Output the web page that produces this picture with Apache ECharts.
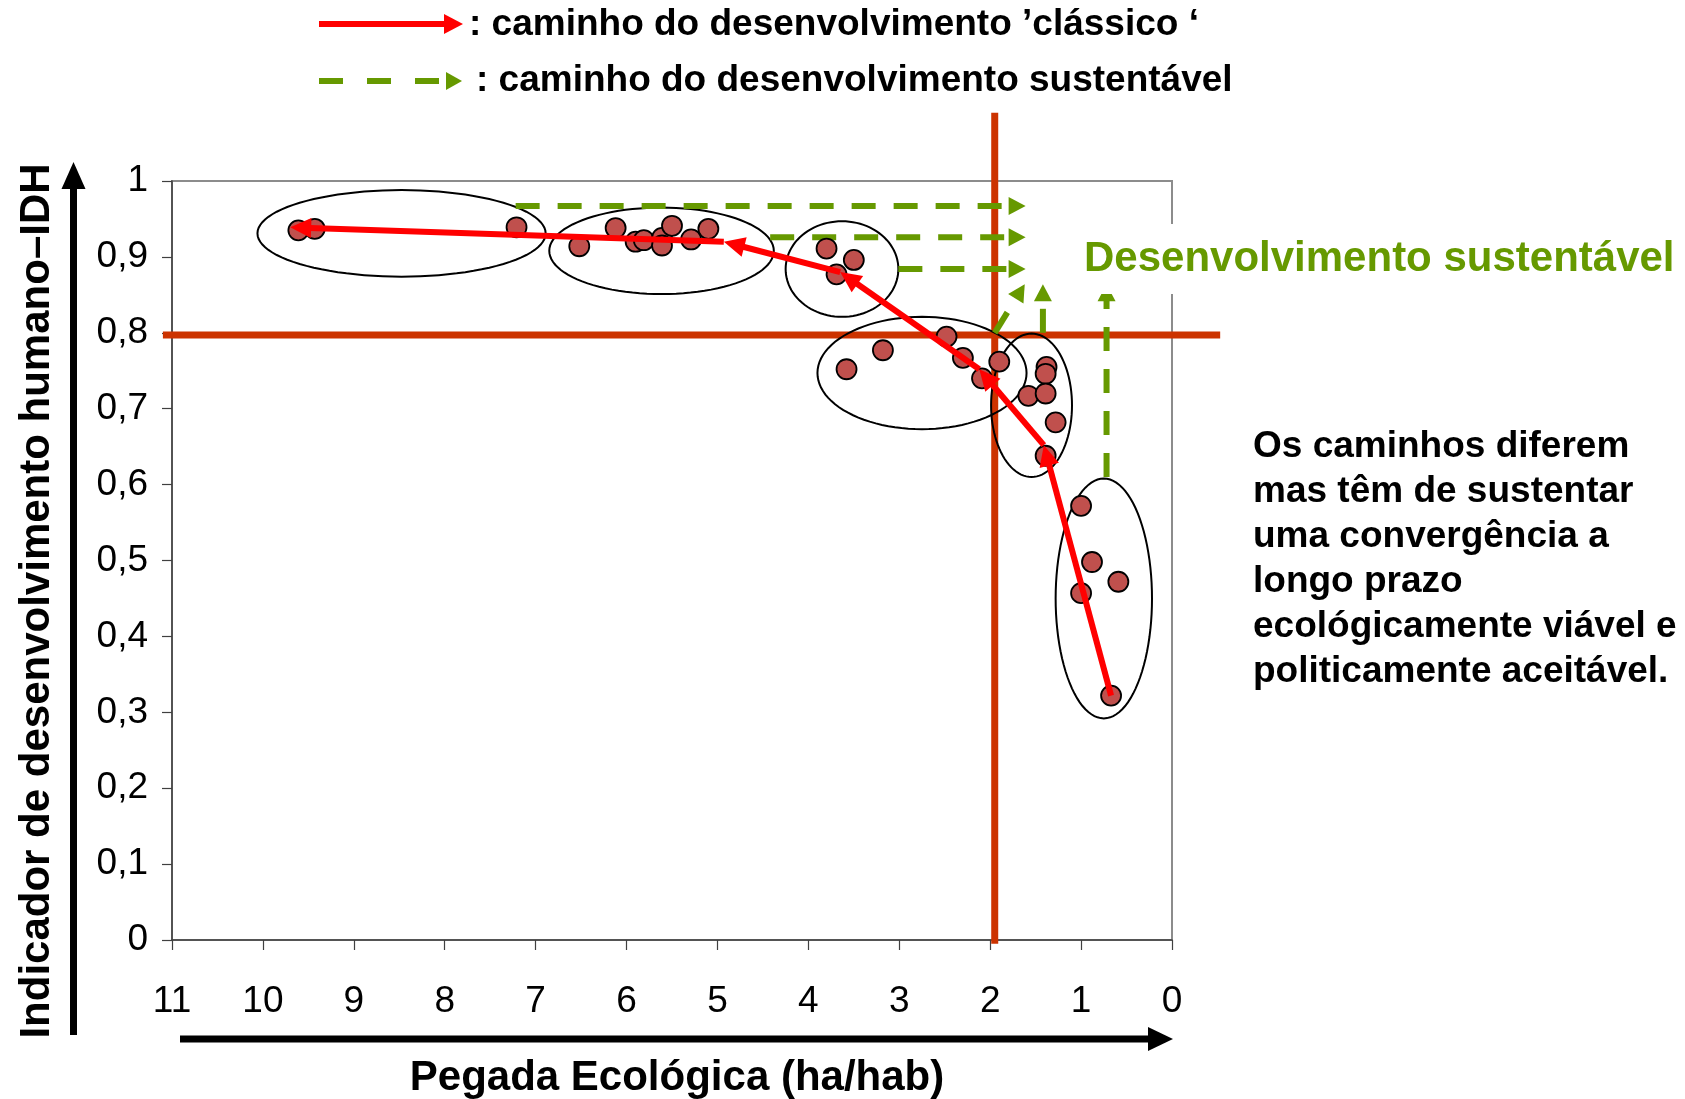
<!DOCTYPE html>
<html>
<head>
<meta charset="utf-8">
<script src="https://cdn.jsdelivr.net/npm/echarts@6/dist/echarts.min.js"></script>
<style>html,body{margin:0;padding:0;background:#fff}#c{width:1685px;height:1099px}</style>
</head>
<body>
<div id="c"></div>
<script>
// ---------- data ----------
const xTickLabels = ['0','1','2','3','4','5','6','7','8','9','10','11'];
const yTickLabels = ['0','0,1','0,2','0,3','0,4','0,5','0,6','0,7','0,8','0,9','1'];

// countries: ecological footprint (ha/hab) and HDI
const pegada = [9.61, 9.43, 7.21,
  6.52, 6.12, 5.90, 5.81, 5.61, 5.50, 5.61, 5.29, 5.10,
  3.80, 3.50, 3.69,
  3.58, 3.18, 2.48, 2.30, 2.09, 1.90,
  1.38, 1.39, 1.58, 1.39, 1.28, 1.39,
  1.00, 0.88, 0.59, 1.00, 0.67];
const idh = [0.935, 0.937, 0.939,
  0.914, 0.938, 0.920, 0.922, 0.925, 0.941, 0.915, 0.923, 0.937,
  0.911, 0.896, 0.877,
  0.752, 0.777, 0.795, 0.767, 0.740, 0.762,
  0.755, 0.746, 0.717, 0.720, 0.682, 0.638,
  0.572, 0.498, 0.472, 0.457, 0.322];

// classic development path (sequence of points)
const classicX = [0.67, 1.41, 2.12, 3.65, 4.93, 9.70];
const classicY = [0.322, 0.652, 0.752, 0.880, 0.920, 0.939];

// sustainable development arrows
const susFromX = [7.22, 4.42, 3.01, 1.95, 1.42, 0.72];
const susFromY = [0.967, 0.926, 0.884, 0.800, 0.800, 0.610];
const susToX   = [1.61, 1.61, 1.61, 1.62, 1.42, 0.72];
const susToY   = [0.967, 0.926, 0.884, 0.864, 0.864, 0.864];

// country groups (ellipses): centre and half-extent
const grpCx = [8.475, 5.615, 3.63, 2.75, 1.545, 0.75];
const grpCy = [0.931, 0.908, 0.884, 0.747, 0.7045, 0.45];
const grpRx = [1.585, 1.235, 0.62, 1.15, 0.445, 0.53];
const grpRy = [0.057, 0.057, 0.063, 0.074, 0.0945, 0.158];

// thresholds
const limitPegada = [1.95];
const limitIdh = [0.797];

// ---------- chart ----------
const FONT = "'Liberation Sans', Arial, sans-serif";
const chart = echarts.init(document.getElementById('c'), null, {renderer: 'canvas'});

function arrowRender(color, width, dash, headLen, headHalf) {
  return function (params, api) {
    const p1 = api.coord([api.value(0), api.value(1)]);
    const p2 = api.coord([api.value(2), api.value(3)]);
    const dx = p2[0] - p1[0], dy = p2[1] - p1[1];
    const L = Math.hypot(dx, dy) || 1;
    const ux = dx / L, uy = dy / L;
    const bx = p2[0] - ux * headLen, by = p2[1] - uy * headLen;
    return {
      type: 'group',
      children: [
        {type: 'line', shape: {x1: p1[0], y1: p1[1], x2: bx + ux, y2: by + uy},
         style: {stroke: color, lineWidth: width, lineDash: dash, fill: null}},
        {type: 'polygon', shape: {points: [[p2[0], p2[1]],
          [bx - uy * headHalf, by + ux * headHalf], [bx + uy * headHalf, by - ux * headHalf]]},
         style: {fill: color}}
      ]
    };
  };
}

const classicSegs = [];
for (let i = 0; i < classicX.length - 1; i++) {
  classicSegs.push([classicX[i], classicY[i], classicX[i + 1], classicY[i + 1]]);
}
const susSegs = susFromX.map((v, i) => [v, susFromY[i], susToX[i], susToY[i]]);
const ellipses = grpCx.map((v, i) => [v, grpCy[i], grpRx[i], grpRy[i]]);

const option = {
  animation: false,
  backgroundColor: '#fff',
  grid: {left: 172, right: 513, top: 181, bottom: 159, show: true,
         borderColor: '#8c8c8c', borderWidth: 2, backgroundColor: 'transparent'},
  xAxis: {
    type: 'value', inverse: true, min: 0, max: 11, interval: 1,
    axisLine: {show: true, onZero: false, lineStyle: {color: '#404040', width: 1.5}},
    axisTick: {show: true, inside: false, length: 10, lineStyle: {color: '#404040', width: 1.2}},
    axisLabel: {margin: 43, fontSize: 37, color: '#000', fontFamily: FONT,
      formatter: v => xTickLabels[Math.round(v)]},
    splitLine: {show: false}
  },
  yAxis: {
    type: 'value', min: 0, max: 1, interval: 0.1,
    axisLine: {show: true, onZero: false, lineStyle: {color: '#404040', width: 1.5}},
    axisTick: {show: true, inside: false, length: 10, lineStyle: {color: '#404040', width: 1.2}},
    axisLabel: {margin: 24, fontSize: 37, color: '#000', fontFamily: FONT,
      formatter: v => yTickLabels[Math.round(v * 10)]},
    splitLine: {show: false}
  },
  series: [
    {
      type: 'custom', z: 1, clip: false, silent: true,
      data: limitPegada.map(v => [v, 0]),
      encode: {x: 0, y: 1},
      renderItem: function (params, api) {
        const a = api.coord([api.value(0), 1.09]);
        const b = api.coord([api.value(0), -0.005]);
        return {type: 'line', shape: {x1: a[0], y1: a[1], x2: b[0], y2: b[1]},
                style: {stroke: '#CC3300', lineWidth: 7}};
      }
    },
    {
      type: 'custom', z: 1, clip: false, silent: true,
      data: limitIdh.map(v => [0, v]),
      encode: {x: 0, y: 1},
      renderItem: function (params, api) {
        const a = api.coord([11.1, api.value(1)]);
        const b = api.coord([-0.53, api.value(1)]);
        return {type: 'line', shape: {x1: a[0], y1: a[1], x2: b[0], y2: b[1]},
                style: {stroke: '#CC3300', lineWidth: 7}};
      }
    },
    {
      type: 'custom', z: 2, clip: false, silent: true,
      data: ellipses,
      encode: {x: 0, y: 1},
      renderItem: function (params, api) {
        const cx = api.value(0), cy = api.value(1), rx = api.value(2), ry = api.value(3);
        const pts = [];
        for (let k = 0; k < 96; k++) {
          const t = k / 96 * Math.PI * 2;
          pts.push(api.coord([cx + rx * Math.cos(t), cy + ry * Math.sin(t)]));
        }
        return {type: 'polygon', shape: {points: pts},
                style: {fill: null, stroke: '#000', lineWidth: 2}};
      }
    },
    {
      type: 'custom', z: 3, clip: false, silent: true,
      data: susSegs,
      encode: {x: [0, 2], y: [1, 3]},
      renderItem: arrowRender('#669900', 6, [24, 18], 17, 9)
    },
    {
      type: 'scatter', z: 4,
      data: pegada.map((v, i) => [v, idh[i]]),
      symbol: 'circle', symbolSize: 20,
      itemStyle: {color: '#C0504D', borderColor: '#000', borderWidth: 1.8, opacity: 1}
    },
    {
      type: 'custom', z: 5, clip: false, silent: true,
      data: classicSegs,
      encode: {x: [0, 2], y: [1, 3]},
      renderItem: arrowRender('#FF0000', 6, null, 21, 10)
    }
  ],
  graphic: [
    // legend
    {type: 'line', z: 100, shape: {x1: 319, y1: 24, x2: 446, y2: 24}, style: {stroke: '#FF0000', lineWidth: 6}},
    {type: 'polygon', z: 100, shape: {points: [[444, 14], [463, 24], [444, 34]]}, style: {fill: '#FF0000'}},
    {type: 'text', z: 100, x: 469, y: 25, style: {text: ': caminho do desenvolvimento ’clássico ‘',
      font: 'bold 37px ' + FONT, fill: '#000', align: 'left', verticalAlign: 'middle'}},
    {type: 'rect', z: 100, shape: {x: 319, y: 78, width: 24, height: 6}, style: {fill: '#669900'}},
    {type: 'rect', z: 100, shape: {x: 367, y: 78, width: 24, height: 6}, style: {fill: '#669900'}},
    {type: 'rect', z: 100, shape: {x: 415, y: 78, width: 24, height: 6}, style: {fill: '#669900'}},
    {type: 'polygon', z: 100, shape: {points: [[446, 72], [462, 81], [446, 90]]}, style: {fill: '#669900'}},
    {type: 'text', z: 100, x: 476, y: 81, style: {text: ': caminho do desenvolvimento sustentável',
      font: 'bold 37px ' + FONT, fill: '#000', align: 'left', verticalAlign: 'middle'}},
    // axis arrows
    {type: 'rect', z: 100, shape: {x: 70, y: 185, width: 7, height: 850}, style: {fill: '#000'}},
    {type: 'polygon', z: 100, shape: {points: [[73.5, 162], [61.5, 189], [85.5, 189]]}, style: {fill: '#000'}},
    {type: 'rect', z: 100, shape: {x: 180, y: 1035.5, width: 972, height: 7}, style: {fill: '#000'}},
    {type: 'polygon', z: 100, shape: {points: [[1173, 1039], [1148, 1027], [1148, 1051]]}, style: {fill: '#000'}},
    // axis titles
    {type: 'text', z: 100, x: 677, y: 1078, style: {text: 'Pegada Ecológica (ha/hab)',
      font: 'bold 42px ' + FONT, fill: '#000', align: 'center', verticalAlign: 'middle'}},
    {type: 'text', z: 100, x: 37, y: 601, rotation: Math.PI / 2, style: {text: 'Indicador de desenvolvimento humano–IDH',
      font: 'bold 42px ' + FONT, fill: '#000', align: 'center', verticalAlign: 'middle'}},
    // annotations
    {type: 'text', z: 100, x: 1080, y: 259, style: {text: 'Desenvolvimento sustentável',
      font: 'bold 42px ' + FONT, fill: '#669900', align: 'left', verticalAlign: 'middle',
      backgroundColor: '#fff', padding: [14, 2, 14, 4]}},
    {type: 'text', z: 100, x: 1253, y: 424, style: {text: 'Os caminhos diferem\nmas têm de sustentar\numa convergência a\nlongo prazo\necológicamente viável e\npoliticamente aceitável.',
      font: 'bold 37px ' + FONT, fill: '#000', align: 'left', verticalAlign: 'top', lineHeight: 45}}
  ]
};
chart.setOption(option);
</script>
</body>
</html>
